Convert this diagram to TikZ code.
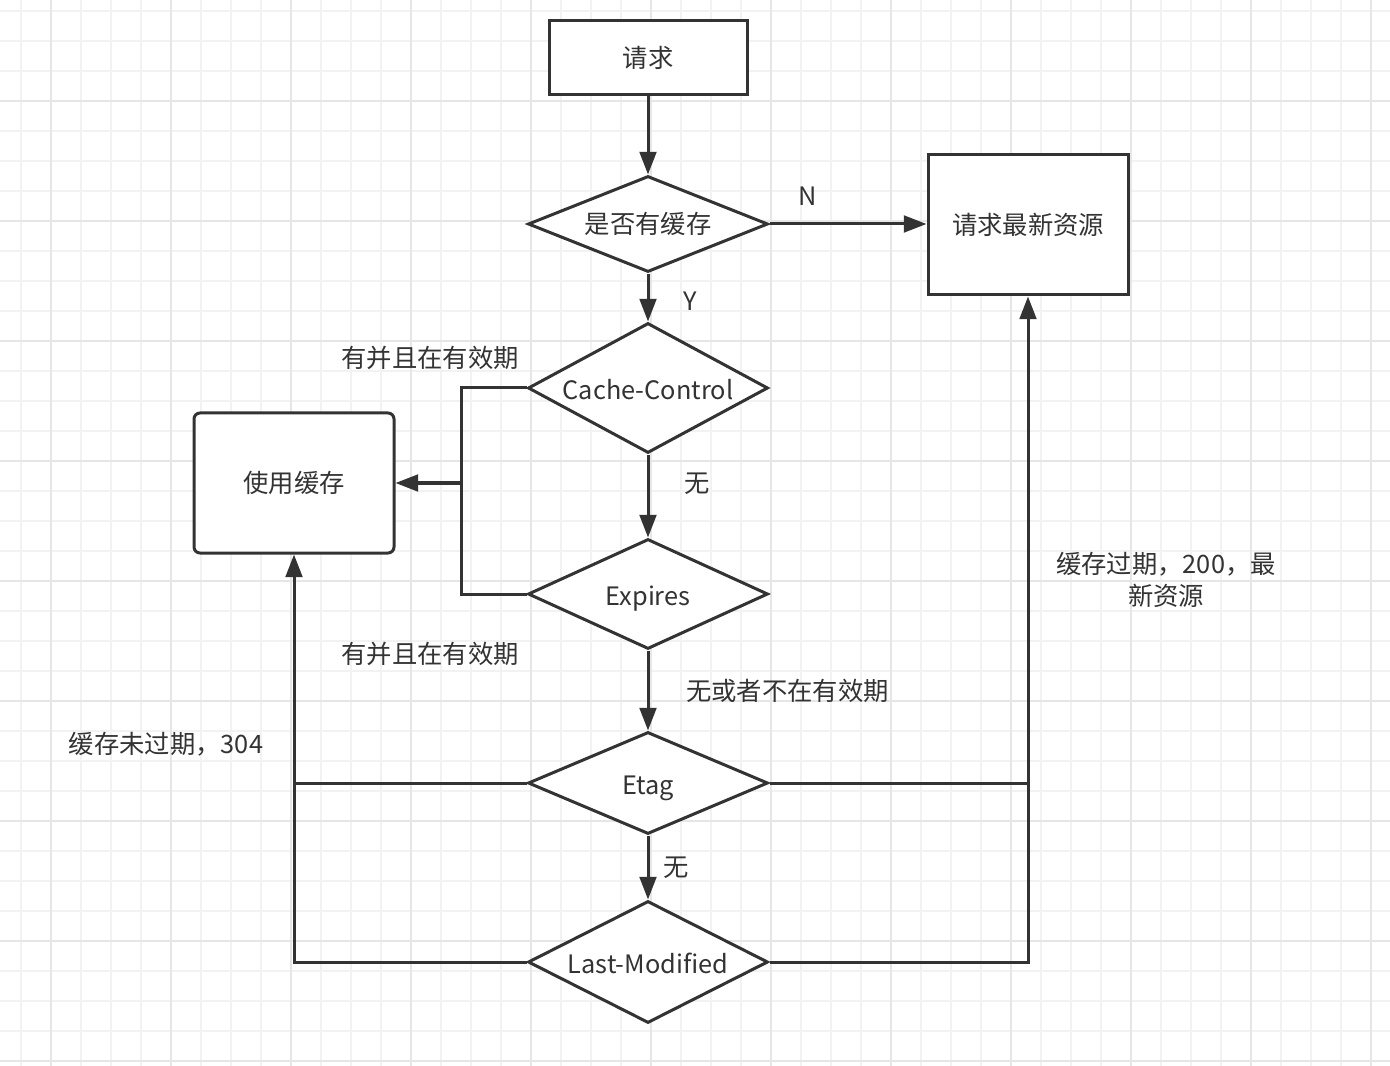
\documentclass[tikz,border=0pt]{standalone}
\usepackage{fontspec}
\setmainfont{Noto Sans CJK SC}
\usetikzlibrary{shapes.geometric,arrows.meta}
\definecolor{ink}{HTML}{333333}
\definecolor{gminor}{HTML}{F2F2F2}
\definecolor{gmajor}{HTML}{E6E6E6}
\newcommand{\lattxt}[1]{\makebox[0pt]{\raisebox{-8.4pt}[0pt][0pt]{#1}}}
\begin{document}
\begin{tikzpicture}[x=0.75pt,y=-0.75pt,
  every node/.style={text=ink,font=\fontsize{19pt}{23pt}\selectfont},
  box/.style={draw=ink,line width=2.25pt,fill=white,rectangle,inner sep=0pt},
  diam/.style={draw=ink,line width=2.25pt,fill=white,diamond,inner sep=0pt,minimum width=180pt},
  conn/.style={draw=ink,line width=2.25pt},
  arr/.style={-{Triangle[length=17pt,width=12.5pt]}},
  lbl/.style={inner sep=0pt}]
\useasboundingbox (0,0) rectangle (1390,1066);
\fill[white] (0,0) rectangle (1390,1066);
% grid
\foreach \x in {21,51,...,1390} \draw[gminor,line width=1.2pt] (\x,0) -- (\x,1066);
\foreach \y in {11,41,...,1066} \draw[gminor,line width=1.2pt] (0,\y) -- (1390,\y);
\foreach \x in {51,171,...,1390} \draw[gmajor,line width=1.2pt] (\x,0) -- (\x,1066);
\foreach \y in {101,221,...,1066} \draw[gmajor,line width=1.2pt] (0,\y) -- (1390,\y);
% nodes
\node[box,minimum width=148.5pt,minimum height=55.5pt] (req) at (648,58) {请求};
\node[diam,minimum height=72pt] (hc) at (648,224) {\makebox[0pt]{是否有缓存}};
\node[box,minimum width=150pt,minimum height=105pt] (new) at (1028,225) {请求最新资源};
\node[diam,minimum height=97.5pt] (cc) at (648,388) {\lattxt{Cache-Control}};
\node[box,rounded corners=4.5pt,minimum width=150pt,minimum height=105pt] (use) at (294,483) {使用缓存};
\node[diam,minimum height=82.5pt] (ex) at (648,594) {\lattxt{Expires}};
\node[diam,minimum height=76.5pt] (et) at (648,783) {\lattxt{Etag}};
\node[diam,minimum height=91.5pt] (lm) at (648,962) {\lattxt{Last-Modified}};
% connectors
\draw[conn,arr] (req) -- (hc);
\draw[conn,arr] (hc.east) -- (hc.east -| new.west);
\draw[conn,arr] (hc) -- (cc);
\draw[conn,arr] (cc) -- (ex);
\draw[conn,arr] (ex) -- (et);
\draw[conn,arr] (et) -- (lm);
\coordinate (jx) at (461,483);
\draw[conn] (cc.west) -| (jx) |- (ex.west);
\draw[conn,arr] (jx) -- (use.east);
\draw[conn,arr] (et.west) -| (use.south);
\draw[conn] (lm.west) -| (et.west -| use.south);
\draw[conn,arr] (et.east) -| (new.south);
\draw[conn] (lm.east) -| (et.east -| new.south);
% labels
\node[lbl] (lN) at (808,196) {N};
\node[lbl] (lY) at (690,301) {Y};
\node[lbl] (lw1) at (697,484) {无};
\node[lbl,anchor=west] (lw2) at (686,691) {无或者不在有效期};
\node[lbl] (lw3) at (676,868) {无};
\node[lbl] (lv1) at (430,358) {有并且在有效期};
\node[lbl] (lv2) at (430,654) {有并且在有效期};
\node[lbl] (l304) at (166,744) {缓存未过期，304};
\node[lbl,align=center,font=\fontsize{19pt}{24pt}\selectfont] (l200) at (1166,580) {缓存过期，200，最\\新资源};
\end{tikzpicture}
\end{document}
